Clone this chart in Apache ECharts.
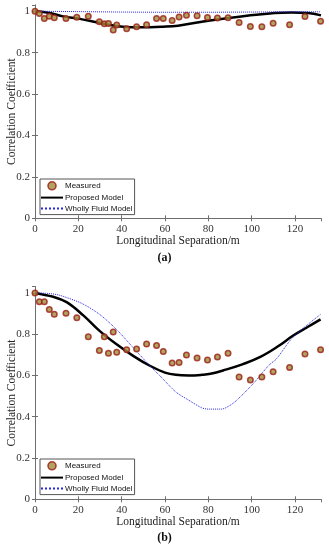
<!DOCTYPE html>
<html><head><meta charset="utf-8">
<script src="https://cdn.jsdelivr.net/npm/echarts@6/dist/echarts.min.js"></script>
<style>html,body{margin:0;padding:0;background:#fff}#ca,#cb{width:329px;height:275px}</style>
</head><body><div id="ca"></div><div id="cb"></div>
<script>
// Measured separations (m)
const separation = [0, 2, 4.3, 6.6, 8.9, 14.3, 19.3, 24.6, 29.7, 32, 33.9, 36.1, 37.7, 42.3, 46.9, 51.5, 56.1, 59.2, 63.3, 66.5, 69.9, 74.8, 79.6, 84.2, 89.1, 94.2, 99.4, 104.7, 109.9, 117.5, 124.6, 131.8];
// (a) measured
const measuredA = [1.0, 0.989, 0.965, 0.976, 0.968, 0.965, 0.971, 0.976, 0.949, 0.939, 0.941, 0.909, 0.933, 0.915, 0.925, 0.935, 0.965, 0.965, 0.955, 0.972, 0.980, 0.978, 0.970, 0.967, 0.968, 0.945, 0.926, 0.925, 0.942, 0.935, 0.975, 0.951];
// (b) measured
const measuredB = [1.0, 0.957, 0.957, 0.920, 0.896, 0.901, 0.879, 0.787, 0.721, 0.788, 0.708, 0.81, 0.713, 0.724, 0.728, 0.752, 0.745, 0.716, 0.660, 0.663, 0.699, 0.684, 0.675, 0.689, 0.708, 0.593, 0.578, 0.593, 0.618, 0.639, 0.704, 0.724];

// (a) model curves
const proposedAX = [0, 6.9, 13, 20.7, 28.4, 34.6, 40.7, 48.4, 59.1, 66, 79.9, 95.2, 110.6, 118.3, 125.9, 132];
const proposedAY = [1.0, 0.991, 0.975, 0.963, 0.947, 0.934, 0.925, 0.922, 0.925, 0.930, 0.954, 0.975, 0.991, 0.994, 0.991, 0.98];
const fluidAX = [0, 20, 40, 60, 80, 100, 120, 132];
const fluidAY = [1.0, 0.998, 0.996, 0.995, 0.995, 0.996, 0.997, 0.997];

// (b) model curves
const proposedBX = [0, 8.4, 14.6, 22.3, 29.8, 37.5, 45.3, 53, 60, 65, 71, 77, 81, 88, 96, 104, 112, 119, 126, 131.8];
const proposedBY = [1.0, 0.981, 0.955, 0.891, 0.816, 0.752, 0.695, 0.647, 0.614, 0.603, 0.600, 0.603, 0.608, 0.628, 0.655, 0.69, 0.74, 0.792, 0.836, 0.872];
const fluidBX = [0, 5, 10, 15, 22, 29.8, 37.5, 45.3, 53, 57.6, 65, 71, 77, 80, 86, 90, 93, 100.6, 108, 111.4, 119, 131.8];
const fluidBY = [1.0, 0.998, 0.992, 0.976, 0.947, 0.896, 0.824, 0.735, 0.647, 0.599, 0.52, 0.48, 0.443, 0.437, 0.437, 0.455, 0.479, 0.559, 0.65, 0.68, 0.784, 0.896];

const xTicks = [0, 20, 40, 60, 80, 100, 120];
const yTicks = [0, 0.2, 0.4, 0.6, 0.8, 1];

function pairs(xs, ys) { return xs.map((x, i) => [x, ys[i]]); }

const axisCol = '#6e6e6e';
const serif = 'Liberation Serif';

function build(el, p) {
  const chart = echarts.init(document.getElementById(el), null, {renderer: 'canvas'});
  const baseX = {
    type: 'value', min: 0, max: 132, interval: 20,
    axisLine: {show: true, lineStyle: {color: axisCol, width: 1}},
    axisTick: {show: true, inside: true, length: 3, lineStyle: {color: axisCol}},
    splitLine: {show: false}
  };
  const baseY = {
    type: 'value', min: 0, max: 1.03, interval: 0.2,
    axisLine: {show: true, lineStyle: {color: axisCol, width: 1}},
    axisTick: {show: true, inside: true, length: 3, lineStyle: {color: axisCol}},
    splitLine: {show: false}
  };
  const fmtX = v => xTicks.includes(v) ? String(v) : '';
  const fmtY = v => yTicks.some(t => Math.abs(t - v) < 1e-6) ? String(+v.toFixed(1)) : '';
  chart.setOption({
    animation: false,
    backgroundColor: '#fff',
    grid: {left: 35, right: 8, top: p.top, height: p.height, containLabel: false, outerBoundsMode: 'none'},
    xAxis: [
      Object.assign({}, baseX, {
        position: 'bottom',
        name: 'Longitudinal Separation/m', nameLocation: 'middle', nameGap: 17, nameMoveOverlap: false,
        nameTextStyle: {fontFamily: serif, fontSize: 11.5, color: '#222'},
        axisLabel: {show: true, margin: 5, fontFamily: serif, fontSize: 11, color: '#333', formatter: fmtX, showMaxLabel: false}
      }),
      Object.assign({}, baseX, {position: 'top', axisLabel: {show: false}})
    ],
    yAxis: [
      Object.assign({}, baseY, {
        position: 'left',
        name: 'Correlation Coefficient', nameLocation: 'middle', nameGap: 17, nameMoveOverlap: false,
        nameTextStyle: {fontFamily: serif, fontSize: 11.5, color: '#222'},
        axisLabel: {show: true, margin: 5, fontFamily: serif, fontSize: 11, color: '#333', formatter: fmtY, showMaxLabel: false}
      }),
      Object.assign({}, baseY, {position: 'right', axisLabel: {show: false}})
    ],
    legend: {
      orient: 'vertical', left: 40, top: p.legendTop,
      backgroundColor: '#fff', borderColor: '#555', borderWidth: 1,
      padding: [2, 2, 2, 0], itemWidth: 22, itemHeight: 8, itemGap: 3,
      textStyle: {fontFamily: 'Liberation Sans', fontSize: 8, color: '#111', padding: [0, 0, 0, -3]},
      data: [
        {name: 'Measured', icon: 'circle', itemStyle: {borderWidth: 1.6}},
        {name: 'Proposed Model', itemStyle: {opacity: 0}},
        {name: 'Wholly Fluid Model', itemStyle: {opacity: 0}}
      ]
    },
    series: [
      {
        name: 'Measured', type: 'scatter', data: pairs(separation, p.measured),
        symbol: 'circle', symbolSize: 5.5,
        itemStyle: {color: '#a08c3c', borderColor: '#9a1e14', borderWidth: 1.5},
        z: 5
      },
      {
        name: 'Proposed Model', type: 'line', data: pairs(p.propX, p.propY),
        smooth: 0.4, showSymbol: false, symbol: 'none',
        lineStyle: {color: '#000', width: 2.5}, z: 3
      },
      {
        name: 'Wholly Fluid Model', type: 'line', data: pairs(p.fluidX, p.fluidY),
        smooth: 0.3, showSymbol: false, symbol: 'none',
        lineStyle: {color: '#2828e0', width: 1, type: 'dotted'}, z: 4
      }
    ],
    graphic: [{
      type: 'text', left: 'center', top: p.tagTop,
      style: {text: p.tag, fontFamily: serif, fontWeight: 'bold', fontSize: 12, fill: '#111'}
    }]
  });
}

build('ca', {top: 5, height: 213.3, legendTop: 179, tagTop: 252, tag: '(a)',
  measured: measuredA, propX: proposedAX, propY: proposedAY, fluidX: fluidAX, fluidY: fluidAY});
build('cb', {top: 11.7, height: 212.6, legendTop: 184, tagTop: 257, tag: '(b)',
  measured: measuredB, propX: proposedBX, propY: proposedBY, fluidX: fluidBX, fluidY: fluidBY});
</script>
</body></html>
